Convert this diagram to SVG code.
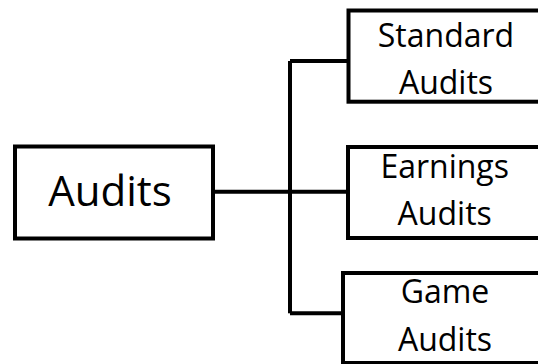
<svg xmlns="http://www.w3.org/2000/svg" width="538" height="364" viewBox="0 0 538 364">
<style>
.box{fill:#fff;stroke:#000;stroke-width:4}
.ln{fill:none;stroke:#000;stroke-width:4}
text{font-family:"Open Sans","Noto Sans","Liberation Sans",sans-serif;fill:#000;text-anchor:middle}
.big{font-size:42px}
.sm{font-size:32px}
</style>
<rect width="538" height="364" fill="#fff"/>
<g id="connectors">
<path class="ln" d="M215 191.7 H348"/>
<path class="ln" d="M290 61 V313.3"/>
<path class="ln" d="M290 61 H348.5"/>
<path class="ln" d="M290 313.3 H343"/>
</g>
<g id="audits">
<rect class="box" x="15" y="146.5" width="198" height="92"/>
<text class="big" x="110" y="205.7">Audits</text>
</g>
<g id="standard-audits">
<rect class="box" x="348.5" y="10.5" width="194" height="91.2"/>
<text class="sm" x="446" y="46.7">Standard</text>
<text class="sm" x="446" y="94">Audits</text>
</g>
<g id="earnings-audits">
<rect class="box" x="348" y="147" width="194" height="91"/>
<text class="sm" x="444.7" y="178.3">Earnings</text>
<text class="sm" x="444.7" y="225">Audits</text>
</g>
<g id="game-audits">
<rect class="box" x="343" y="273" width="204" height="90"/>
<text class="sm" x="445" y="303.3">Game</text>
<text class="sm" x="445" y="350.7">Audits</text>
</g>
</svg>
